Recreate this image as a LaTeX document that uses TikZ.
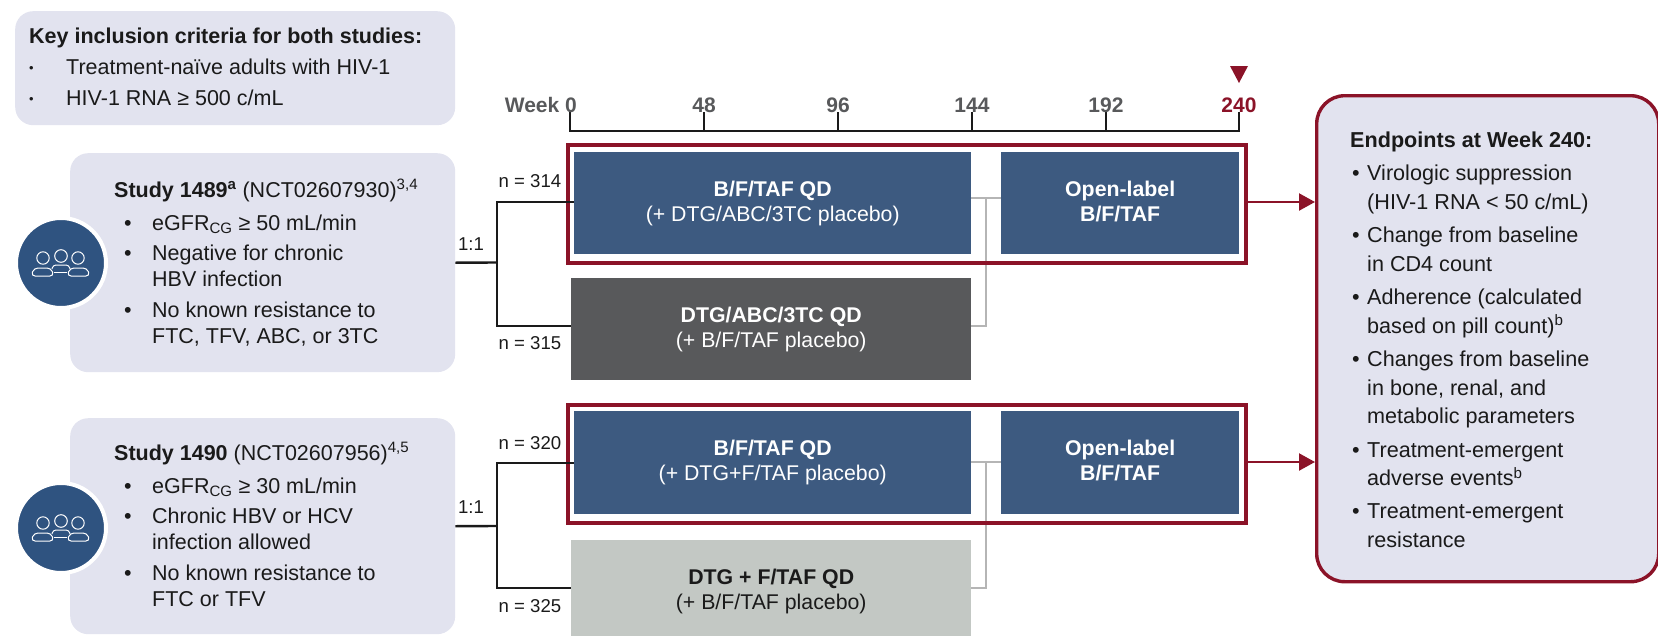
\documentclass[tikz,border=0pt]{standalone}
\usepackage{fontspec}
\setmainfont{Liberation Sans}
\usetikzlibrary{arrows.meta}
\definecolor{crimson}{HTML}{8B1328}
\definecolor{armblue}{HTML}{3D5A80}
\definecolor{iconblue}{HTML}{2F5380}
\definecolor{armdark}{HTML}{58595B}
\definecolor{armlight}{HTML}{C3C8C4}
\definecolor{panel}{HTML}{E2E3EF}
\definecolor{inktext}{HTML}{1A1A1A}
\definecolor{linkgray}{HTML}{B5B5B5}
\newcommand{\tinybullet}{\raisebox{1.5pt}{\scalebox{.6}{\textbullet}}}
\tikzset{
  panelbox/.style={anchor=north west,fill=panel,rounded corners=18pt,inner sep=0pt},
  armbox/.style={anchor=north west,inner sep=0pt,text=white,align=center,
    font=\fontsize{21.3}{25}\selectfont,
    execute at begin node=\rule{0pt}{26pt},execute at end node=\rule[-4pt]{0pt}{4pt}},
  frame/.style={anchor=north west,inner sep=0pt,draw=crimson,line width=4pt},
  listtext/.style={anchor=base west,inner sep=0pt,text=inktext},
  small/.style={inner sep=0pt,text=inktext,font=\fontsize{18.6}{20}\selectfont},
  weeklabel/.style={inner sep=0pt,text=armdark,font=\fontsize{21}{24}\bfseries\selectfont},
  arm/.style={draw=inktext,line width=2.4pt},
  link/.style={draw=linkgray,line width=2.2pt},
  redarrow/.style={-{Triangle[width=17pt,length=16pt]},crimson,line width=2.2pt},
  people/.pic={
    \draw[white,line width=1pt] (-18,-5) circle[radius=6.2] (17,-5) circle[radius=6.2]
      (0,-7) circle[radius=6.3];
    \draw[white,line width=1pt,rounded corners=4pt] (-30,13) -- (-27,5) -- (-10,5) -- (-7,13) -- cycle;
    \draw[white,line width=1pt,rounded corners=4pt] (29,13) -- (26,5) -- (9,5) -- (6,13) -- cycle;
    \draw[white,line width=1pt,rounded corners=3pt] (-9,6) -- (-8,2) -- (8,2) -- (9,6);
    \draw[white,line width=1pt] (-7,9) -- (6,9);
  }
}
\begin{document}
\begin{tikzpicture}[x=1pt,y=-1pt,line cap=butt,line join=miter]
  \useasboundingbox (0,0) rectangle (1658,635);

  % left panels
  \node[panelbox,minimum width=440pt,minimum height=114pt] (keybox) at (15,11) {};
  \node[panelbox,minimum width=385pt,minimum height=219pt] (studyA) at (70,153) {};
  \node[panelbox,minimum width=385pt,minimum height=216pt] (studyB) at (70,418) {};

  \node[listtext,font=\fontsize{21.5}{31}\selectfont] (keytext) at (29,43) {%
    \begin{tabular}[t]{@{}p{37pt}@{}l@{}}
    \multicolumn{2}{@{}l@{}}{\textbf{Key inclusion criteria for both studies:}}\\
    \tinybullet & Treatment-naïve adults with HIV-1\\
    \tinybullet & HIV-1 RNA ≥ 500 c/mL
    \end{tabular}};

  \node[listtext,font=\fontsize{21.5}{26}\selectfont] (textA) at (114,197) {%
    \begin{tabular}[t]{@{\hspace{10pt}}p{28pt}@{}l@{}}
    \multicolumn{2}{@{}l@{}}{\textbf{Study 1489\textsuperscript{a}} (NCT02607930)\textsuperscript{3,4}}\\[7pt]
    \textbullet & eGFR\textsubscript{CG} ≥ 50 mL/min\\[4pt]
    \textbullet & Negative for chronic\\
     & HBV infection\\[5pt]
    \textbullet & No known resistance to\\
     & FTC, TFV, ABC, or 3TC
    \end{tabular}};

  \node[listtext,font=\fontsize{21.5}{26}\selectfont] (textB) at (114,460) {%
    \begin{tabular}[t]{@{\hspace{10pt}}p{28pt}@{}l@{}}
    \multicolumn{2}{@{}l@{}}{\textbf{Study 1490} (NCT02607956)\textsuperscript{4,5}}\\[7pt]
    \textbullet & eGFR\textsubscript{CG} ≥ 30 mL/min\\[4pt]
    \textbullet & Chronic HBV or HCV\\
     & infection allowed\\[5pt]
    \textbullet & No known resistance to\\
     & FTC or TFV
    \end{tabular}};

  % icons
  \node[circle,fill=iconblue,draw=white,line width=4pt,minimum size=90pt,inner sep=0pt] (iconA) at (61,263) {};
  \node[circle,fill=iconblue,draw=white,line width=4pt,minimum size=90pt,inner sep=0pt] (iconB) at (61,528) {};
  \pic at (iconA) {people};
  \pic at (iconB) {people};

  % week axis
  \draw[draw=inktext,line width=2.4pt] (570,112) |- (1239,131) -- (1239,112);
  \foreach \tickx/\wk in {704/48,838/96,972/144,1106/192}{
    \draw[draw=inktext,line width=1.8pt] (\tickx,112) -- (\tickx,131);
    \node[weeklabel] (wk\wk) at (\tickx,105) {\wk};
  }
  \node[weeklabel,anchor=east] (wk0) at (577,105) {Week 0};
  \node[weeklabel,text=crimson] (wk240) at (1239,105) {240};
  \fill[crimson] (1230,66) -- (1248,66) -- (1239,83) -- cycle;

  % gray links, behind the frames
  \coordinate (linkA) at (986,198);
  \coordinate (linkB) at (986,462);
  \draw[link] (971,198) -- (1001,198);
  \draw[link] (linkA) |- (971,326);
  \draw[link] (971,462) -- (1001,462);
  \draw[link] (linkB) |- (971,588);

  % frames
  \node[frame,minimum width=678pt,minimum height=118pt] (frameA) at (566,143) {};
  \node[frame,minimum width=678pt,minimum height=118pt] (frameB) at (566,403) {};

  % arms
  \node[armbox,fill=armblue,minimum width=397pt,minimum height=102pt] (bftafA) at (574,152)
    {\textbf{B/F/TAF QD}\\(+ DTG/ABC/3TC placebo)};
  \node[armbox,fill=armblue,minimum width=238pt,minimum height=102pt] (openA) at (1001,152)
    {\textbf{Open-label}\\\textbf{B/F/TAF}};
  \node[armbox,fill=armdark,minimum width=400pt,minimum height=102pt] (compA) at (571,278)
    {\textbf{DTG/ABC/3TC QD}\\(+ B/F/TAF placebo)};
  \node[armbox,fill=armblue,minimum width=397pt,minimum height=103pt] (bftafB) at (574,411)
    {\textbf{B/F/TAF QD}\\(+ DTG+F/TAF placebo)};
  \node[armbox,fill=armblue,minimum width=238pt,minimum height=103pt] (openB) at (1001,411)
    {\textbf{Open-label}\\\textbf{B/F/TAF}};
  \node[armbox,fill=armlight,text=inktext,minimum width=400pt,minimum height=102pt] (compB) at (571,540)
    {\textbf{DTG + F/TAF QD}\\(+ B/F/TAF placebo)};

  % randomisation branches
  \coordinate (splitA) at (497,262.5);
  \coordinate (splitB) at (497,526);
  \draw[arm] (studyA.east) -- (splitA);
  \draw[arm] (splitA) |- ([yshift=1.5pt]bftafA.west);
  \draw[arm] (splitA) |- ([yshift=3pt]compA.west);
  \draw[arm] (studyB.east) -- (splitB);
  \draw[arm] (splitB) |- (bftafB.west);
  \draw[arm] (splitB) |- ([yshift=3pt]compB.west);

  \node[small] (ratioA) at (471,244) {1:1};
  \node[small] (ratioB) at (471,507) {1:1};
  \node[small] (nA) at (530,181) {n = 314};
  \node[small] (nB) at (530,343) {n = 315};
  \node[small] (nC) at (530,443) {n = 320};
  \node[small] (nD) at (530,606) {n = 325};

  % endpoints
  \node[panelbox,draw=crimson,line width=3.4pt,rounded corners=28pt,minimum width=342pt,minimum height=486pt] (endbox) at (1315,94) {};
  \node[listtext,font=\fontsize{21.6}{28.7}\selectfont] (endtext) at (1350,147.5) {%
    \begin{tabular}[t]{@{\hspace{2pt}}p{15pt}@{}l@{}}
    \multicolumn{2}{@{}l@{}}{\textbf{Endpoints at Week 240:}}\\[4.5pt]
    \textbullet & Virologic suppression\\
     & (HIV-1 RNA < 50 c/mL)\\[4.5pt]
    \textbullet & Change from baseline\\
     & in CD4 count\\[4.5pt]
    \textbullet & Adherence (calculated\\
     & based on pill count)\textsuperscript{b}\\[4.5pt]
    \textbullet & Changes from baseline\\
     & in bone, renal, and\\
     & metabolic parameters\\[4.5pt]
    \textbullet & Treatment-emergent\\
     & adverse events\textsuperscript{b}\\[4.5pt]
    \textbullet & Treatment-emergent\\
     & resistance
    \end{tabular}};

  \coordinate (exitA) at ([yshift=2pt]frameA.east);
  \coordinate (exitB) at ([yshift=2pt]frameB.east);
  \draw[redarrow] (exitA) -- (endbox.west |- exitA);
  \draw[redarrow] (exitB) -- (endbox.west |- exitB);
\end{tikzpicture}
\end{document}
